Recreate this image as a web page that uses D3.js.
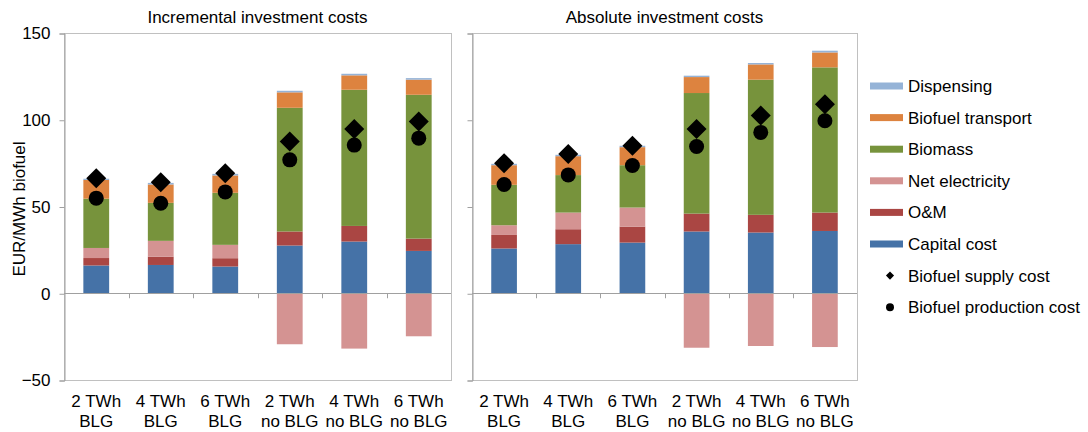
<!DOCTYPE html>
<html>
<head>
<meta charset="utf-8">
<script src="https://cdn.jsdelivr.net/npm/d3@7"></script>
<style>
  body { margin: 0; background: #fff; }
  text { font-family: "Liberation Sans", Arial, sans-serif; fill: #000; }
</style>
</head>
<body>
<div id="vis"></div>
<script>
var width = 1088;
var height = 432;
var font_size = "17px";

// categories (two line labels)
var cat_line1 = ["2 TWh", "4 TWh", "6 TWh", "2 TWh", "4 TWh", "6 TWh"];
var cat_line2 = ["BLG", "BLG", "BLG", "no BLG", "no BLG", "no BLG"];
var categories = ["2 TWh BLG", "4 TWh BLG", "6 TWh BLG", "2 TWh no BLG", "4 TWh no BLG", "6 TWh no BLG"];

var series_keys = ["capital", "om", "net_elec", "biomass", "transport", "dispensing"];
var series_names = ["Capital cost", "O&M", "Net electricity", "Biomass", "Biofuel transport", "Dispensing"];
var y_ticks = [-50, 0, 50, 100, 150];

// incremental investment costs
var inc_capital = [16.0, 16.3, 15.4, 27.5, 29.8, 24.4];
var inc_om = [4.3, 4.8, 4.8, 8.1, 9.0, 7.1];
var inc_net_elec = [5.8, 9.1, 7.7, -29.4, -31.9, -24.8];
var inc_biomass = [28.4, 21.9, 30.0, 71.3, 78.5, 82.9];
var inc_transport = [10.8, 10.6, 10.0, 8.9, 8.3, 8.7];
var inc_dispensing = [0.7, 0.9, 0.9, 0.9, 0.9, 0.9];
var inc_supply = [66.3, 64.0, 69.2, 87.5, 94.6, 99.0];
var inc_production = [54.8, 51.9, 58.4, 76.9, 85.4, 89.4];

// absolute investment costs
var abs_capital = [25.8, 28.3, 29.2, 35.6, 35.0, 35.9];
var abs_om = [7.8, 8.6, 9.2, 10.3, 10.2, 10.6];
var abs_net_elec = [5.6, 9.6, 11.0, -31.4, -30.4, -31.0];
var abs_biomass = [23.3, 21.6, 24.4, 69.5, 77.9, 83.7];
var abs_transport = [11.3, 10.9, 10.4, 9.2, 8.8, 8.6];
var abs_dispensing = [0.8, 0.8, 0.8, 0.8, 0.8, 1.0];
var abs_supply = [75.0, 80.2, 85.0, 94.6, 102.5, 109.0];
var abs_production = [62.7, 68.2, 73.6, 84.6, 92.7, 99.4];

var colors = {
  capital: "#4572a7",
  om: "#aa4643",
  net_elec: "#d49392",
  biomass: "#77933c",
  transport: "#dd833f",
  dispensing: "#95b3d7"
};

var plot_top = 33, plot_bottom = 380;
var panels = [
  {title: "Incremental investment costs", x0: 64, x1: 451, labels: true,
   series: [inc_capital, inc_om, inc_net_elec, inc_biomass, inc_transport, inc_dispensing],
   supply: inc_supply, production: inc_production},
  {title: "Absolute investment costs", x0: 472, x1: 857, labels: false,
   series: [abs_capital, abs_om, abs_net_elec, abs_biomass, abs_transport, abs_dispensing],
   supply: abs_supply, production: abs_production}
];

var svg = d3.select("#vis").append("svg")
  .attr("width", width)
  .attr("height", height);

var y_scale = d3.scaleLinear()
  .domain([-50, 150])
  .range([plot_bottom, plot_top]);

function build_rows(panel){
  return categories.map(function(c, i){
    var row = {key: c};
    series_keys.forEach(function(k, j){ row[k] = panel.series[j][i]; });
    return row;
  });
}

function draw_panel(panel){
  var g = svg.append("g");
  var x_scale = d3.scaleBand()
    .domain(categories)
    .range([panel.x0, panel.x1])
    .paddingInner(0.6)
    .paddingOuter(0.3);
  var step = x_scale.step();

  // plot area border
  g.append("rect")
    .attr("x", panel.x0 + 0.5)
    .attr("y", plot_top + 0.5)
    .attr("width", panel.x1 - panel.x0)
    .attr("height", plot_bottom - plot_top)
    .attr("fill", "none")
    .attr("stroke", "#c0c0c0");

  var y_axis = g.append("g")
    .attr("transform", "translate(" + (panel.x0 + 0.5) + ",0.5)")
    .call(d3.axisLeft(y_scale).tickValues(y_ticks).tickSize(5).tickPadding(9)
      .tickFormat(panel.labels ? d3.format("d") : ""));
  y_axis.select(".domain").attr("stroke", "#a0a0a0");
  y_axis.selectAll(".tick line").attr("stroke", "#a0a0a0");
  y_axis.selectAll(".tick text").style("font-size", font_size)
    .style("font-family", "'Liberation Sans', Arial, sans-serif");

  var rows = build_rows(panel);
  var stack = d3.stack().keys(series_keys).offset(d3.stackOffsetDiverging);
  var layers = stack(rows);

  g.selectAll(".layer")
    .data(layers)
    .enter().append("g")
    .attr("class", "layer")
    .attr("fill", d => colors[d.key])
    .selectAll("rect")
    .data(d => d)
    .enter().append("rect")
    .attr("x", d => x_scale(d.data.key))
    .attr("y", d => y_scale(Math.max(d[0], d[1])))
    .attr("width", x_scale.bandwidth())
    .attr("height", d => Math.abs(y_scale(d[0]) - y_scale(d[1])));

  // zero line and category ticks
  g.append("line")
    .attr("x1", panel.x0).attr("x2", panel.x1)
    .attr("y1", Math.round(y_scale(0)) + 0.5).attr("y2", Math.round(y_scale(0)) + 0.5)
    .attr("stroke", "#a0a0a0");
  g.selectAll(".cat-tick")
    .data(categories.slice(1))
    .enter().append("line")
    .attr("class", "cat-tick")
    .attr("x1", d => Math.round(x_scale(d) - (step - x_scale.bandwidth()) / 2) + 0.5)
    .attr("x2", d => Math.round(x_scale(d) - (step - x_scale.bandwidth()) / 2) + 0.5)
    .attr("y1", y_scale(0))
    .attr("y2", y_scale(0) + 5)
    .attr("stroke", "#a0a0a0");

  // markers
  var diamond = d3.symbol().type(d3.symbolDiamond2).size(255);
  g.selectAll(".supply")
    .data(panel.supply)
    .enter().append("path")
    .attr("class", "supply")
    .attr("d", diamond)
    .attr("fill", "#000")
    .attr("transform", (d, i) => "translate(" + (x_scale(categories[i]) + x_scale.bandwidth() / 2) + "," + y_scale(d) + ")");
  g.selectAll(".production")
    .data(panel.production)
    .enter().append("circle")
    .attr("class", "production")
    .attr("cx", (d, i) => x_scale(categories[i]) + x_scale.bandwidth() / 2)
    .attr("cy", d => y_scale(d))
    .attr("r", 7.5)
    .attr("fill", "#000");

  // category labels
  var labels = g.selectAll(".cat-label")
    .data(categories)
    .enter().append("text")
    .attr("class", "cat-label")
    .attr("text-anchor", "middle")
    .style("font-size", font_size);
  labels.append("tspan")
    .attr("x", d => x_scale(d) + x_scale.bandwidth() / 2)
    .attr("y", 407)
    .text((d, i) => cat_line1[i]);
  labels.append("tspan")
    .attr("x", d => x_scale(d) + x_scale.bandwidth() / 2)
    .attr("y", 427)
    .text((d, i) => cat_line2[i]);

  g.append("text")
    .attr("x", (panel.x0 + panel.x1) / 2)
    .attr("y", 23)
    .attr("text-anchor", "middle")
    .style("font-size", font_size)
    .text(panel.title);
}

panels.forEach(draw_panel);

svg.append("text")
  .attr("transform", "translate(25,209) rotate(-90)")
  .attr("text-anchor", "middle")
  .style("font-size", font_size)
  .text("EUR/MWh biofuel");

// legend
var legend_items = series_keys.slice().reverse().map(function(k){
  return {name: series_names[series_keys.indexOf(k)], color: colors[k], type: "bar"};
});
legend_items.push({name: "Biofuel supply cost", type: "diamond"});
legend_items.push({name: "Biofuel production cost", type: "circle"});

var legend = svg.selectAll(".legend")
  .data(legend_items)
  .enter().append("g")
  .attr("class", "legend")
  .attr("transform", (d, i) => "translate(870," + (86 + i * 31.6) + ")");

legend.filter(d => d.type === "bar").append("rect")
  .attr("x", 0).attr("y", -3.5)
  .attr("width", 33).attr("height", 7)
  .attr("fill", d => d.color);
legend.filter(d => d.type === "diamond").append("path")
  .attr("d", d3.symbol().type(d3.symbolDiamond2).size(42))
  .attr("transform", "translate(20,0)")
  .attr("fill", "#000");
legend.filter(d => d.type === "circle").append("circle")
  .attr("cx", 20).attr("cy", 0).attr("r", 4)
  .attr("fill", "#000");
legend.append("text")
  .attr("x", 38)
  .attr("y", 6)
  .style("font-size", font_size)
  .text(d => d.name);
</script>
</body>
</html>
